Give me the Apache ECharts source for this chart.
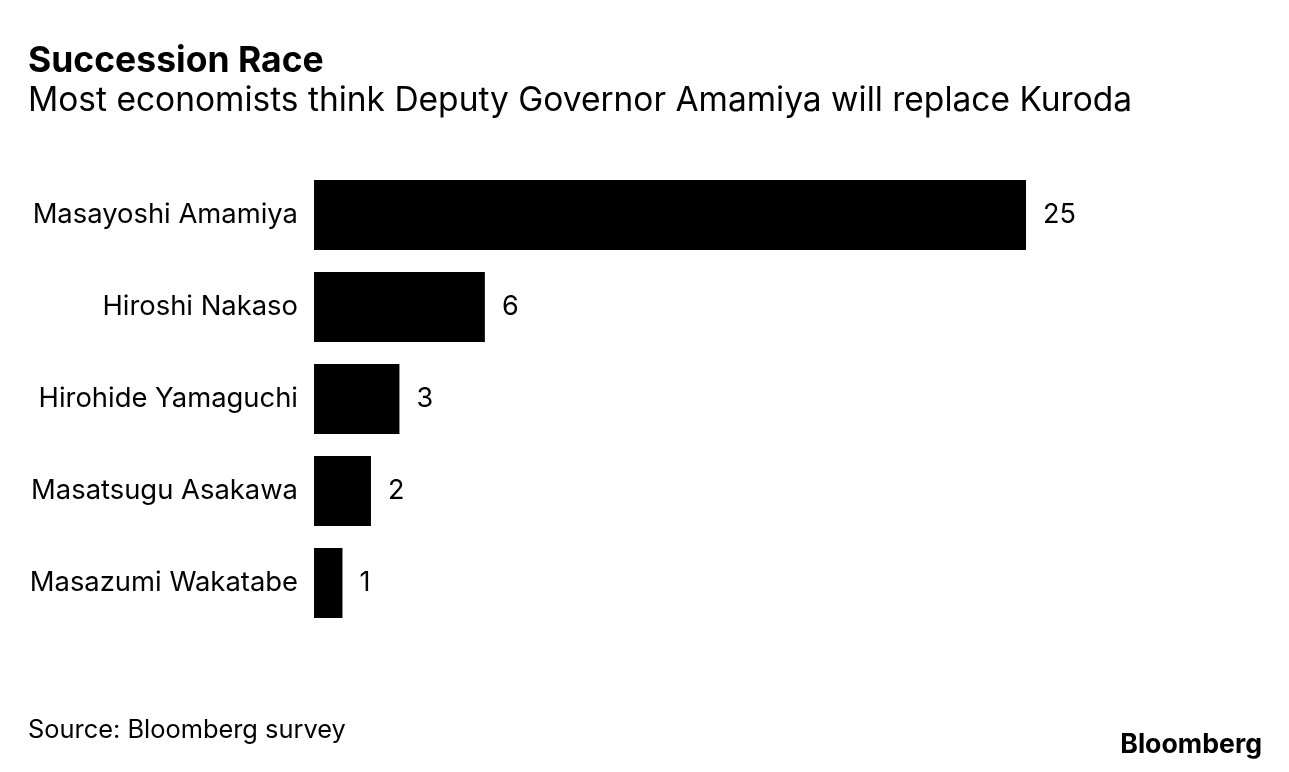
<!DOCTYPE html>
<html><head><meta charset="utf-8">
<script src="https://cdn.jsdelivr.net/npm/echarts@6/dist/echarts.min.js"></script>
<style>html,body{margin:0;padding:0;background:#fff}#c{width:1289px;height:772px}</style>
</head><body><div id="c"></div>
<script>
const categories = ["Masayoshi Amamiya","Hiroshi Nakaso","Hirohide Yamaguchi","Masatsugu Asakawa","Masazumi Wakatabe"];
const values = [25, 6, 3, 2, 1];
const FONT = "Inter, 'Liberation Sans', Arial, sans-serif";
const chart = echarts.init(document.getElementById('c'));
chart.setOption({
  backgroundColor:'#fff',
  animation:false,
  graphic:[
    {type:'text',left:28,top:43,style:{text:'Succession Race',font:'bold 35.5px '+FONT,fill:'#000'}},
    {type:'text',left:28,top:84,style:{text:'Most economists think Deputy Governor Amamiya will replace Kuroda',font:'33.5px '+FONT,fill:'#000'}},
    {type:'text',left:28,top:718,style:{text:'Source: Bloomberg survey',font:'25.4px '+FONT,fill:'#000'}},
    {type:'text',right:27,top:731,style:{text:'Bloomberg',font:'bold 26.7px '+FONT,fill:'#000'}}
  ],
  grid:{left:314,top:169,width:712,height:460,containLabel:false},
  xAxis:{type:'value',min:0,max:25,show:false},
  yAxis:{type:'category',data:categories,inverse:true,
    axisLine:{show:false},axisTick:{show:false},
    axisLabel:{fontFamily:FONT,fontSize:27.4,color:'#000',margin:16}},
  series:[{type:'bar',data:values,barCategoryGap:'24%',
    itemStyle:{color:'#000'},
    label:{show:true,position:'right',distance:17,fontFamily:FONT,fontSize:27,color:'#000'}}]
});
</script></body></html>
